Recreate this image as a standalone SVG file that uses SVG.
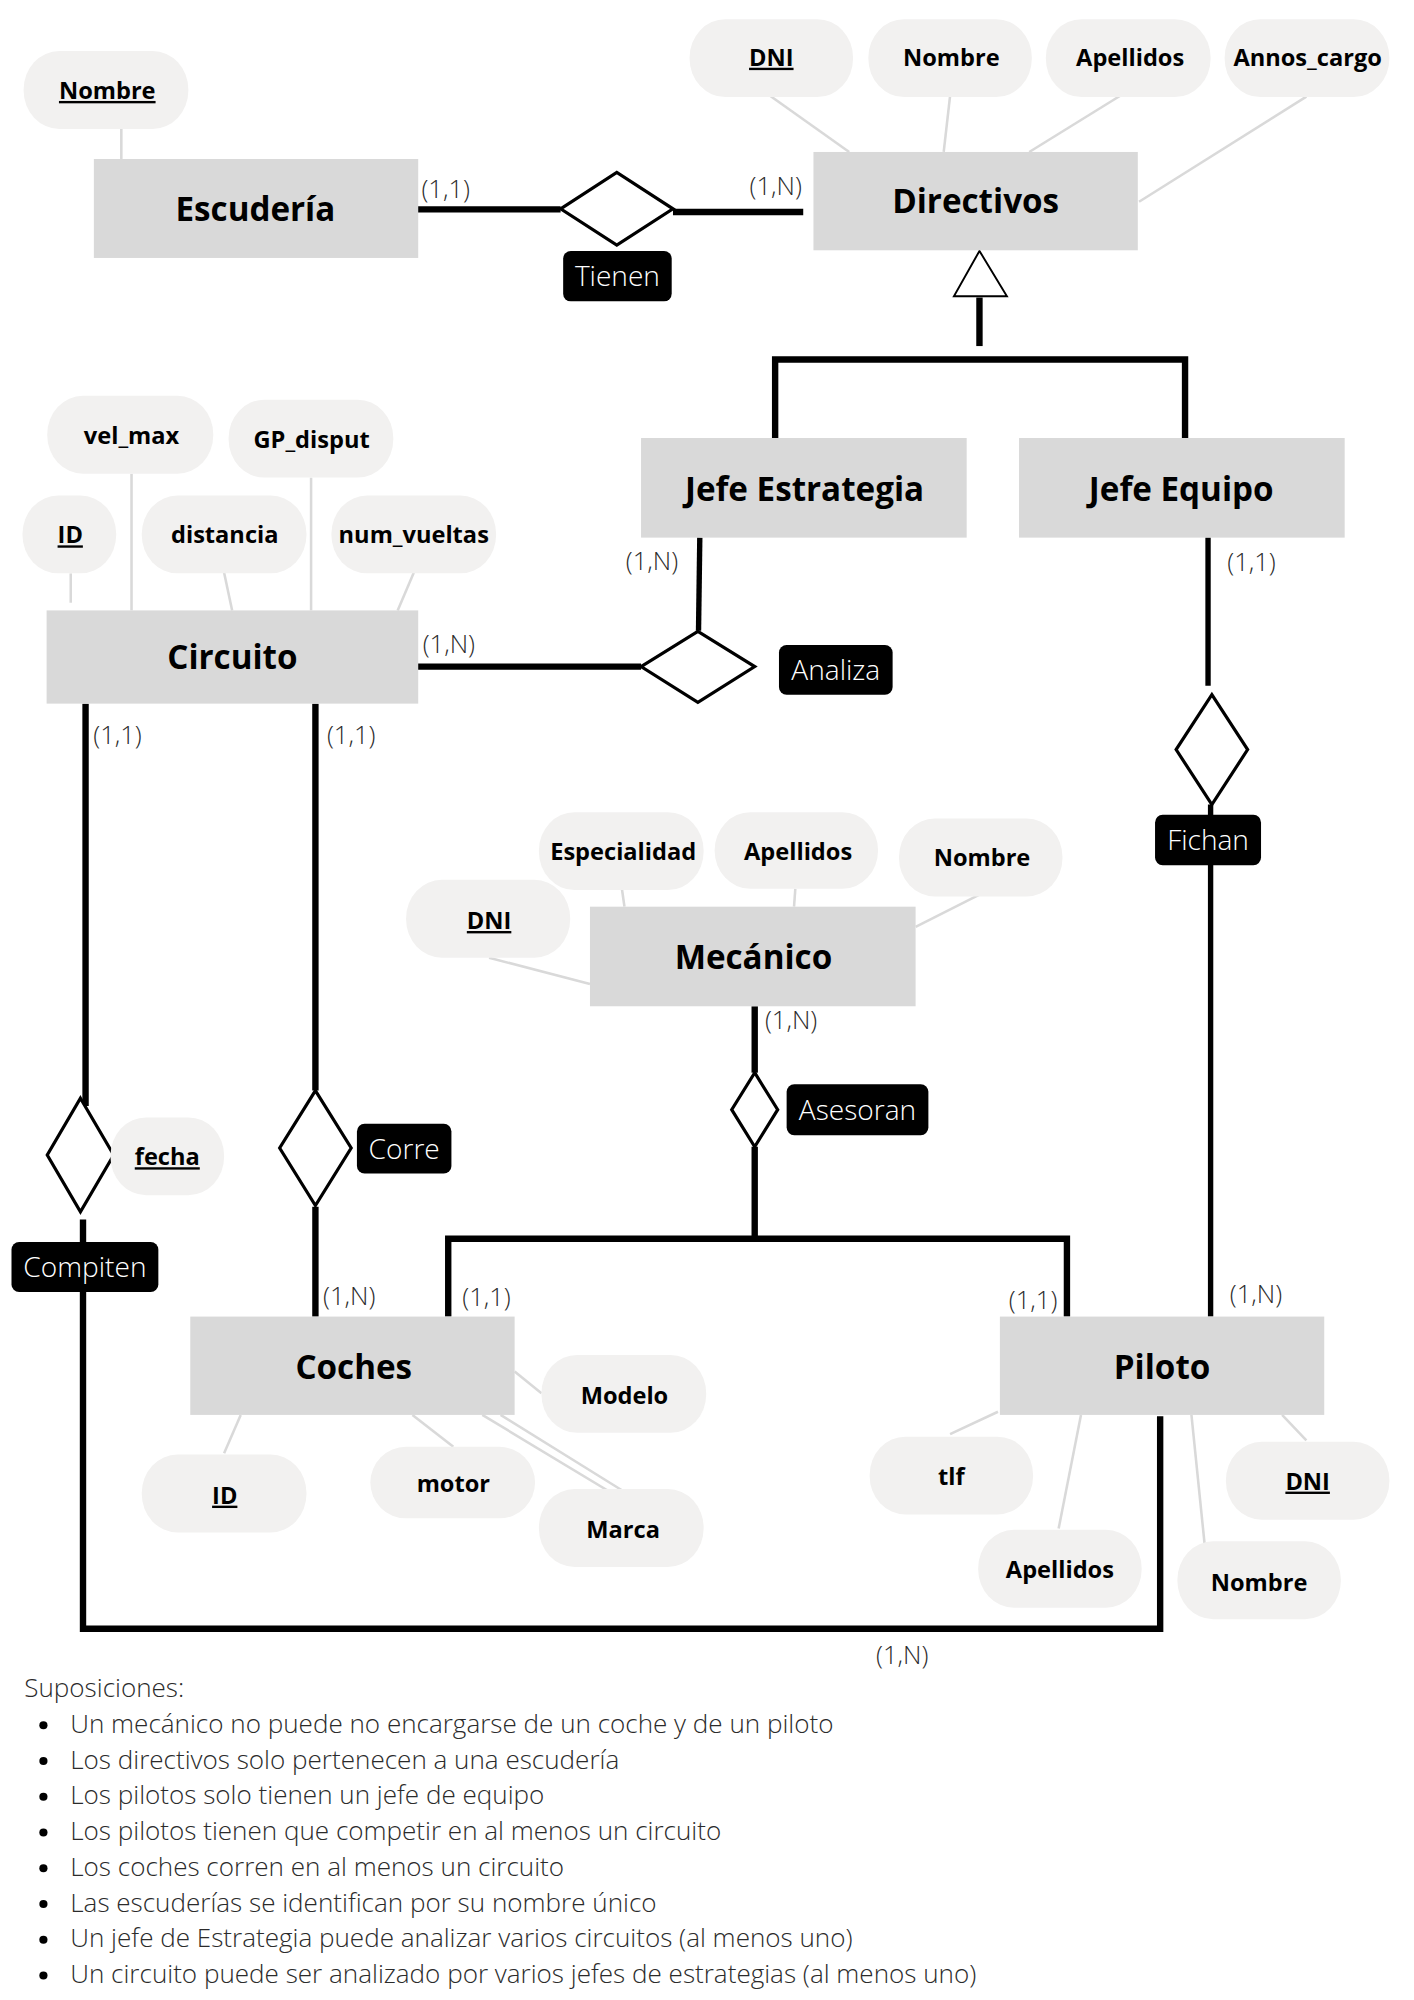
<svg xmlns="http://www.w3.org/2000/svg" width="1414" height="2000" viewBox="0 0 1414 2000">
<style>
.ent{fill:#d9d9d9}
.ent-t{font-family:"Open Sans","Liberation Sans",sans-serif;font-weight:700;font-size:26px;text-anchor:middle;fill:#000}
.att{fill:#f2f1f0}
.att-t{font-family:"Open Sans","Liberation Sans",sans-serif;font-weight:700;font-size:18.5px;text-anchor:middle;fill:#000}
.key{text-decoration:underline}
.rel{fill:#fff;stroke:#000;stroke-width:2.5;stroke-linejoin:miter}
.lbl{fill:#000}
.lbl-t{font-family:"Open Sans","Liberation Sans",sans-serif;font-weight:300;font-size:22px;text-anchor:middle;fill:#fff}
.card{font-family:"Open Sans","Liberation Sans",sans-serif;font-weight:300;font-size:20px;fill:#2b2b2b}
.conn{stroke:#000;stroke-width:5;fill:none;stroke-linejoin:miter}
.thin{stroke-width:4.2}
.attl{stroke:#d9d9d9;stroke-width:2;fill:none}
.note{font-family:"Open Sans","Liberation Sans",sans-serif;font-weight:300;font-size:20.4px;fill:#2b2b2b}
</style>
<rect width="1414" height="2000" fill="#fff"/>
<g transform="scale(1.277)">
<g id="attribute-links">
<line class="attl" x1="95" y1="101" x2="95" y2="124.5"/>
<line class="attl" x1="603" y1="75" x2="665" y2="119"/>
<line class="attl" x1="744" y1="75" x2="739" y2="119"/>
<line class="attl" x1="884.5" y1="70.5" x2="806" y2="119"/>
<line class="attl" x1="1023" y1="75.7" x2="892" y2="158"/>
<line class="attl" x1="55.4" y1="449" x2="55.4" y2="472"/>
<line class="attl" x1="103" y1="371" x2="103" y2="478"/>
<line class="attl" x1="175.5" y1="448.5" x2="181.8" y2="478"/>
<line class="attl" x1="243.6" y1="374" x2="243.6" y2="478"/>
<line class="attl" x1="324" y1="448.5" x2="311.4" y2="478"/>
<line class="attl" x1="383" y1="750" x2="462" y2="770.6"/>
<line class="attl" x1="487" y1="696" x2="489" y2="710"/>
<line class="attl" x1="622.8" y1="696" x2="621.8" y2="710"/>
<line class="attl" x1="767" y1="700.6" x2="717" y2="725.8"/>
<line class="attl" x1="403" y1="1074" x2="424" y2="1091"/>
<line class="attl" x1="188.5" y1="1108" x2="175.5" y2="1138"/>
<line class="attl" x1="323" y1="1108" x2="355" y2="1133"/>
<line class="attl" x1="377.7" y1="1108" x2="507" y2="1186"/>
<line class="attl" x1="392" y1="1108" x2="487" y2="1167"/>
<line class="attl" x1="781.5" y1="1105.5" x2="744" y2="1123"/>
<line class="attl" x1="846.5" y1="1108" x2="829" y2="1197"/>
<line class="attl" x1="933" y1="1108" x2="943.6" y2="1212"/>
<line class="attl" x1="1004" y1="1108" x2="1023" y2="1128"/>
</g>
<g id="connectors">
<path class="conn" d="M327,164 H439"/>
<path class="conn" d="M527,166 H629"/>
<path class="conn" d="M767,233 V271"/>
<path class="conn" d="M607,343 V281.5 H928 V343"/>
<path class="conn thin" d="M548,421 L547,494"/>
<path class="conn" d="M327,522 H502"/>
<path class="conn thin" d="M946,421 V537"/>
<path class="conn thin" d="M948,630 V1031"/>
<path class="conn" d="M67,551 V866"/>
<path class="conn" d="M65,955 V1275.5 H908.5 V1109"/>
<path class="conn" d="M247,551 V854"/>
<path class="conn" d="M247,945 V1031"/>
<path class="conn" d="M591,788 V840"/>
<path class="conn" d="M591,898 V970"/>
<path class="conn" d="M351,1031 V970 H835.5 V1031"/>
<polygon points="767,196.5 747,232 788.5,232" fill="#fff" stroke="#000" stroke-width="1.5"/>
</g>
<g id="cardinalities">
<text class="card" x="330" y="155">(1,1)</text>
<text class="card" x="587" y="153">(1,N)</text>
<text class="card" x="490" y="446">(1,N)</text>
<text class="card" x="331" y="511">(1,N)</text>
<text class="card" x="961" y="447">(1,1)</text>
<text class="card" x="73" y="583">(1,1)</text>
<text class="card" x="256" y="583">(1,1)</text>
<text class="card" x="599" y="806">(1,N)</text>
<text class="card" x="963" y="1020">(1,N)</text>
<text class="card" x="253" y="1022">(1,N)</text>
<text class="card" x="362" y="1023">(1,1)</text>
<text class="card" x="790" y="1025">(1,1)</text>
<text class="card" x="686" y="1303">(1,N)</text>
</g>
<g id="escuderia"><rect class="ent" x="73.5" y="124.5" width="254" height="77.5"/><text class="ent-t" x="200" y="173">Escudería</text></g>
<g id="escuderia-nombre"><rect class="att" x="18.5" y="40" width="129" height="61" rx="28" ry="30"/><text class="att-t key" x="84" y="77.5">Nombre</text></g>
<g id="directivos"><rect class="ent" x="637" y="119" width="254" height="77"/><text class="ent-t" x="764" y="167">Directivos</text></g>
<g id="directivos-dni"><rect class="att" x="540" y="15" width="128" height="61" rx="28" ry="30"/><text class="att-t key" x="604" y="51.5">DNI</text></g>
<g id="directivos-nombre"><rect class="att" x="680" y="15" width="128" height="61" rx="28" ry="30"/><text class="att-t" x="745" y="51.5">Nombre</text></g>
<g id="directivos-apellidos"><rect class="att" x="819" y="15" width="129" height="61" rx="28" ry="30"/><text class="att-t" x="885" y="51.5">Apellidos</text></g>
<g id="directivos-annos"><rect class="att" x="959" y="15" width="129" height="61" rx="28" ry="30"/><text class="att-t" x="1024" y="51.5">Annos_cargo</text></g>
<g id="tienen"><polygon class="rel" points="439,163.5 483,135 527,163.5 483,192"/><rect class="lbl" x="441" y="196.5" width="85" height="39.5" rx="6"/><text class="lbl-t" x="483.5" y="224">Tienen</text></g>
<g id="jefe-estrategia"><rect class="ent" x="502" y="343" width="255" height="78"/><text class="ent-t" x="630" y="392">Jefe Estrategia</text></g>
<g id="jefe-equipo"><rect class="ent" x="798" y="343" width="255" height="78"/><text class="ent-t" x="925" y="392">Jefe Equipo</text></g>
<g id="circuito"><rect class="ent" x="36.5" y="478" width="291" height="73"/><text class="ent-t" x="182" y="524">Circuito</text></g>
<g id="circuito-velmax"><rect class="att" x="37" y="310" width="130" height="61" rx="28" ry="30"/><text class="att-t" x="103" y="347.5">vel_max</text></g>
<g id="circuito-gp"><rect class="att" x="179" y="313" width="129" height="61" rx="28" ry="30"/><text class="att-t" x="244" y="350.5">GP_disput</text></g>
<g id="circuito-id"><rect class="att" x="17.6" y="388" width="73.4" height="61" rx="28" ry="30"/><text class="att-t key" x="55" y="425.5">ID</text></g>
<g id="circuito-distancia"><rect class="att" x="111" y="388" width="129" height="61" rx="28" ry="30"/><text class="att-t" x="176" y="425.5">distancia</text></g>
<g id="circuito-vueltas"><rect class="att" x="259.5" y="388" width="129" height="61" rx="28" ry="30"/><text class="att-t" x="324" y="425.5">num_vueltas</text></g>
<g id="analiza"><polygon class="rel" points="502,522 546.5,494.5 591,522 546.5,550"/><rect class="lbl" x="610" y="505" width="89" height="39" rx="6"/><text class="lbl-t" x="654.5" y="532.5">Analiza</text></g>
<g id="fichan"><polygon class="rel" points="949,544 977,587 949,630 921,587"/><rect class="lbl" x="904.5" y="638" width="83" height="39.5" rx="6"/><text class="lbl-t" x="946" y="665.5">Fichan</text></g>
<g id="compiten"><polygon class="rel" points="63,860 89,904.5 63,949 37,904.5"/><rect class="lbl" x="9" y="972.6" width="115" height="39.2" rx="6"/><text class="lbl-t" x="66.5" y="1000">Compiten</text></g>
<g id="compiten-fecha"><rect class="att" x="86.5" y="875" width="89" height="61" rx="28" ry="30"/><text class="att-t key" x="131" y="912.5">fecha</text></g>
<g id="corre"><polygon class="rel" points="247,854 275,899 247,944 219,899"/><rect class="lbl" x="279.5" y="880" width="74" height="39" rx="6"/><text class="lbl-t" x="316.5" y="907.5">Corre</text></g>
<g id="mecanico"><rect class="ent" x="462" y="710" width="255" height="78"/><text class="ent-t" x="590" y="759">Mecánico</text></g>
<g id="mecanico-dni"><rect class="att" x="318" y="689" width="128.5" height="61" rx="28" ry="30"/><text class="att-t key" x="383" y="727.5">DNI</text></g>
<g id="mecanico-especialidad"><rect class="att" x="422" y="636" width="129" height="61" rx="28" ry="30"/><text class="att-t" x="488" y="673.5">Especialidad</text></g>
<g id="mecanico-apellidos"><rect class="att" x="559.6" y="636" width="128" height="60" rx="28" ry="30"/><text class="att-t" x="625" y="673.5">Apellidos</text></g>
<g id="mecanico-nombre"><rect class="att" x="704" y="641" width="128" height="61" rx="28" ry="30"/><text class="att-t" x="769" y="678.5">Nombre</text></g>
<g id="asesoran"><polygon class="rel" points="591,840 609,869 591,898 573,869"/><rect class="lbl" x="616" y="849" width="111" height="40" rx="6"/><text class="lbl-t" x="671.5" y="877">Asesoran</text></g>
<g id="coches"><rect class="ent" x="149" y="1031" width="254" height="77"/><text class="ent-t" x="277" y="1080">Coches</text></g>
<g id="coches-modelo"><rect class="att" x="424" y="1061" width="129" height="61" rx="28" ry="30"/><text class="att-t" x="489" y="1099.5">Modelo</text></g>
<g id="coches-id"><rect class="att" x="111" y="1139" width="129" height="61" rx="28" ry="30"/><text class="att-t key" x="176" y="1177.5">ID</text></g>
<g id="coches-motor"><rect class="att" x="290" y="1133" width="129" height="56" rx="28" ry="28"/><text class="att-t" x="355" y="1168.5">motor</text></g>
<g id="coches-marca"><rect class="att" x="422" y="1166" width="129" height="61" rx="28" ry="30"/><text class="att-t" x="488" y="1204.5">Marca</text></g>
<g id="piloto"><rect class="ent" x="783" y="1031" width="254" height="77"/><text class="ent-t" x="910" y="1080">Piloto</text></g>
<g id="piloto-tlf"><rect class="att" x="681" y="1125" width="128" height="61" rx="28" ry="30"/><text class="att-t" x="745" y="1162.5">tlf</text></g>
<g id="piloto-apellidos"><rect class="att" x="766" y="1198" width="128" height="61" rx="28" ry="30"/><text class="att-t" x="830" y="1235.5">Apellidos</text></g>
<g id="piloto-dni"><rect class="att" x="960" y="1129" width="128" height="61" rx="28" ry="30"/><text class="att-t key" x="1024" y="1166.5">DNI</text></g>
<g id="piloto-nombre"><rect class="att" x="922" y="1207" width="128" height="61" rx="28" ry="30"/><text class="att-t" x="986" y="1245.5">Nombre</text></g>
<g id="suposiciones">
<text class="note" x="19" y="1329">Suposiciones:</text>
<g fill="#000"><circle cx="34" cy="1351" r="3.2"/><circle cx="34" cy="1379" r="3.2"/><circle cx="34" cy="1407" r="3.2"/><circle cx="34" cy="1435" r="3.2"/><circle cx="34" cy="1463" r="3.2"/><circle cx="34" cy="1491" r="3.2"/><circle cx="34" cy="1519" r="3.2"/><circle cx="34" cy="1547" r="3.2"/></g>
<text class="note" x="55" y="1357">Un mecánico no puede no encargarse de un coche y de un piloto</text>
<text class="note" x="55" y="1385">Los directivos solo pertenecen a una escudería</text>
<text class="note" x="55" y="1413">Los pilotos solo tienen un jefe de equipo</text>
<text class="note" x="55" y="1441">Los pilotos tienen que competir en al menos un circuito</text>
<text class="note" x="55" y="1469">Los coches corren en al menos un circuito</text>
<text class="note" x="55" y="1497">Las escuderías se identifican por su nombre único</text>
<text class="note" x="55" y="1525">Un jefe de Estrategia puede analizar varios circuitos (al menos uno)</text>
<text class="note" x="55" y="1553">Un circuito puede ser analizado por varios jefes de estrategias (al menos uno)</text>
</g>
</g>
</svg>
